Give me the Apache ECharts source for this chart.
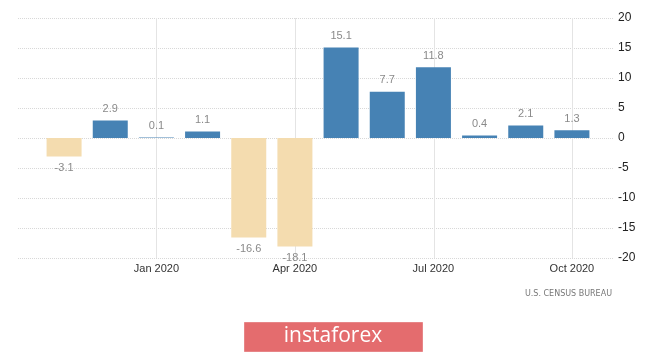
<!DOCTYPE html>
<html>
<head>
<meta charset="utf-8">
<script src="https://cdn.jsdelivr.net/npm/echarts@6/dist/echarts.min.js"></script>
<style>
  html, body { margin: 0; padding: 0; background: #fff; }
  #main { width: 665px; height: 353px; }
</style>
</head>
<body>
<div id="main"></div>
<script>
// months from Nov 2019 to Oct 2020
var months = ['Nov 2019', 'Dec 2019', 'Jan 2020', 'Feb 2020', 'Mar 2020', 'Apr 2020',
              'May 2020', 'Jun 2020', 'Jul 2020', 'Aug 2020', 'Sep 2020', 'Oct 2020'];
var values = [-3.1, 2.9, 0.1, 1.1, -16.6, -18.1, 15.1, 7.7, 11.8, 0.4, 2.1, 1.3];
var shownLabels = ['Jan 2020', 'Apr 2020', 'Jul 2020', 'Oct 2020'];
var source = 'U.S. CENSUS BUREAU';

var chart = echarts.init(document.getElementById('main'));

var barData = values.map(function (v) {
  return {
    value: v,
    itemStyle: { color: v < 0 ? '#f4dcaf' : '#4682b4' },
    label: { position: v < 0 ? 'bottom' : 'top' }
  };
});

var option = {
  animation: false,
  grid: [
    { left: 41, right: 70, top: 18, bottom: 95 },
    { left: 18, right: 52, top: 18, bottom: 95 }
  ],
  xAxis: [
    {
      type: 'category', gridIndex: 0, data: months,
      axisLine: { show: false }, axisTick: { show: false },
      axisLabel: {
        interval: 0,
        formatter: function (v) { return shownLabels.indexOf(v) >= 0 ? v : ''; },
        color: '#333', fontSize: 11, fontFamily: 'Liberation Sans', margin: 5
      }
    },
    {
      type: 'value', gridIndex: 1, min: 0, max: 12.88, interval: 3,
      axisLine: { show: false }, axisTick: { show: false }, axisLabel: { show: false },
      splitLine: { show: true, showMinLine: false, showMaxLine: false, lineStyle: { color: '#e4e4e4', width: 1 } }
    }
  ],
  yAxis: [
    {
      type: 'value', gridIndex: 0, min: -20, max: 20, interval: 5,
      axisLine: { show: false }, axisTick: { show: false }, axisLabel: { show: false },
      splitLine: { show: false }
    },
    {
      type: 'value', gridIndex: 1, min: -20, max: 20, interval: 5, position: 'right',
      axisLine: { show: false }, axisTick: { show: false },
      axisLabel: { color: '#222', fontSize: 12, fontFamily: 'Liberation Sans', margin: 5 },
      splitLine: { show: true, lineStyle: { color: '#d8d8d8', type: [1, 1], width: 1 } }
    }
  ],
  series: [
    {
      type: 'bar', xAxisIndex: 0, yAxisIndex: 0, data: barData,
      barWidth: 35, z: 5,
      label: { show: true, color: '#8a8a8a', fontSize: 11, fontFamily: 'Liberation Sans', distance: 6 }
    }
  ],
  graphic: [
    {
      type: 'text', right: 53, top: 290,
      style: { text: source, fill: '#777', font: '8px "DejaVu Sans"' }
    },
    {
      type: 'rect', left: 244, top: 322,
      shape: { width: 178, height: 29 },
      style: { fill: '#e46c6e', stroke: '#e78587', lineWidth: 1 }
    },
    {
      type: 'text', x: 333, y: 336,
      style: { text: 'instaforex', fill: '#fff', font: '21px "Open Sans"', align: 'center', verticalAlign: 'middle' }
    }
  ]
};

chart.setOption(option);
</script>
</body>
</html>
